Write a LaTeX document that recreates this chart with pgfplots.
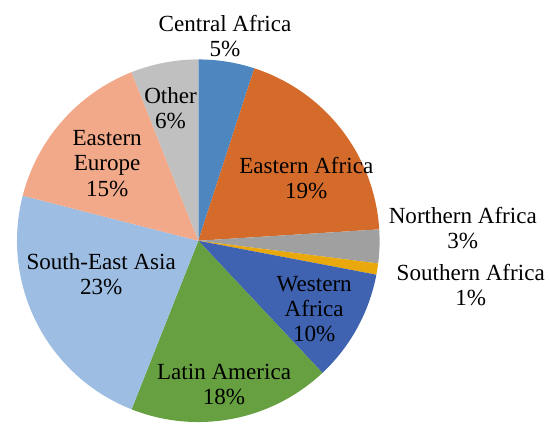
\documentclass[border=0pt]{standalone}
\usepackage{pgfplots}
\pgfplotsset{compat=1.18}
\usepackage{fontspec}
\setmainfont{Liberation Serif}
\definecolor{cCA}{HTML}{4E86BF}
\definecolor{cEA}{HTML}{D46B2A}
\definecolor{cNA}{HTML}{A0A0A0}
\definecolor{cSA}{HTML}{E9A80C}
\definecolor{cWA}{HTML}{3F63B0}
\definecolor{cLA}{HTML}{66A041}
\definecolor{cSE}{HTML}{9DBDE3}
\definecolor{cEE}{HTML}{F2A98A}
\definecolor{cOT}{HTML}{C0C0C0}
% slice: colour, start cumulative percent, value percent
\newcommand\slice[3]{%
  \fill[#1] (axis cs:195,192) -- ++({90-3.6*#2}:183) arc[start angle={90-3.6*#2}, end angle={90-3.6*(#2+#3)}, radius=183] -- cycle;}
\begin{document}
\begin{tikzpicture}[x=1pt,y=1pt]
\path (0,0) rectangle (550,435);
\begin{axis}[hide axis, disabledatascaling, x=1pt, y=1pt, xmin=0, xmax=550, ymin=0, ymax=435,
  anchor=origin, at={(0,0)}, scale only axis, clip=false]
\slice{cCA}{0}{5}
\slice{cEA}{5}{19}
\slice{cNA}{24}{3}
\slice{cSA}{27}{1}
\slice{cWA}{28}{10}
\slice{cLA}{38}{18}
\slice{cSE}{56}{23}
\slice{cEE}{79}{15}
\slice{cOT}{94}{6}
\tikzset{lab/.style={font=\fontsize{23.3}{25.5}\selectfont, align=center, text=black, inner sep=0pt}}
\node[lab] at (axis cs:222,399) {Central Africa\\5\%};
\node[lab] at (axis cs:304,255) {Eastern Africa\\19\%};
\node[lab] at (axis cs:462,205) {Northern Africa\\3\%};
\node[lab] at (axis cs:470,147) {Southern Africa\\1\%};
\node[lab] at (axis cs:312,123) {Western\\Africa\\10\%};
\node[lab] at (axis cs:221,47) {Latin America\\18\%};
\node[lab] at (axis cs:97,158) {South-East Asia\\23\%};
\node[lab] at (axis cs:103,270) {Eastern\\Europe\\15\%};
\node[lab] at (axis cs:167,326) {Other\\6\%};
\end{axis}
\end{tikzpicture}
\end{document}
